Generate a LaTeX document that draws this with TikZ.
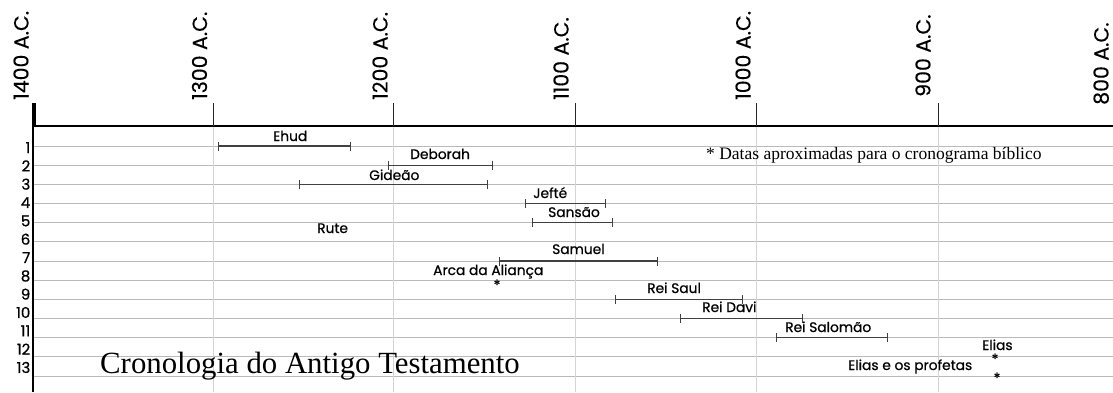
\documentclass[tikz,border=0pt]{standalone}
\usepackage{fontspec}
\setmainfont{Poppins}
\newfontfamily\labfont{Poppins}[FakeBold=0.7]
\newfontfamily\yearfont{Poppins}[FakeBold=0.3]
\newfontfamily\serifont{Liberation Serif}
\usetikzlibrary{arrows.meta}
\begin{document}
\begin{tikzpicture}[x=1pt,y=-1pt,
  gridline/.style={draw=black!27, line width=0.9pt},
  vgrid/.style={draw=black!17, line width=0.8pt},
  axisline/.style={draw=black, line width=1.5pt},
  tickmark/.style={draw=black!85, line width=1pt},
  period/.style={draw=black!75, line width=1.1pt,
    {Bar[width=9pt,line width=1pt]}-{Bar[width=9pt,line width=1pt]}},
  lab/.style={font=\labfont\fontsize{13.8}{13.8}\selectfont, inner sep=0pt, anchor=base west},
  rownum/.style={font=\labfont\fontsize{15}{15}\selectfont, inner sep=0pt, anchor=base east},
  yearlab/.style={font=\yearfont\fontsize{20.5}{20.5}\selectfont, inner sep=0pt, rotate=90, anchor=base west},
  starmark/.style={font=\labfont\fontsize{14}{14}\selectfont, inner sep=0pt, anchor=base}
]
\useasboundingbox (0,0) rectangle (1113,392);
\fill[white] (0,0) rectangle (1113,392);

% horizontal grid lines
\foreach \i in {1,...,13}{
  \draw[gridline] (33,{146+19.17*(\i-1)}) -- (1113,{146+19.17*(\i-1)});
}
% vertical grid lines
\foreach \x in {213,393.5,575,756.5,938}{
  \draw[vgrid] (\x,126) -- (\x,392);
}

% axes
\draw[axisline] (33,126) -- (1113,126);
\draw[draw=black, line width=3.5pt] (34,103) -- (34,127);
\draw[draw=black, line width=2.2pt] (32.6,126) -- (32.6,392);
\foreach \x in {213,393.5,575,756.5,938}{
  \draw[tickmark] (\x,103) -- (\x,126);
}

% year labels
\node[yearlab] (y1400) at (28.5,100) {1400 A.C.};
\node[yearlab] (y1300) at (207,100) {1300 A.C.};
\node[yearlab] (y1200) at (387.5,100) {1200 A.C.};
\node[yearlab] (y1100) at (568.5,100) {1100 A.C.};
\node[yearlab] (y1000) at (750.5,100) {1000 A.C.};
\node[yearlab] (y900) at (930.5,97) {900 A.C.};
\node[yearlab] (y800) at (1108.5,105) {800 A.C.};

% row numbers
\foreach \i in {1,...,13}{
  \node[rownum] (r\i) at (30.5,{153+18.33*(\i-1)}) {\i};
}

% periods
\coordinate (ehudA) at (218,146);   \coordinate (ehudB) at (351,146);
\coordinate (debA) at (388,165.2);  \coordinate (debB) at (493,165.2);
\coordinate (gidA) at (299,184.3);  \coordinate (gidB) at (488,184.3);
\coordinate (jefA) at (525,203.5);  \coordinate (jefB) at (606,203.5);
\coordinate (sanA) at (532,222.7);  \coordinate (sanB) at (613,222.7);
\coordinate (samA) at (499,261);    \coordinate (samB) at (658,261);
\coordinate (saulA) at (615,299.4); \coordinate (saulB) at (743,299.4);
\coordinate (daviA) at (680,318.5); \coordinate (daviB) at (803,318.5);
\coordinate (salA) at (776,337.7);  \coordinate (salB) at (888,337.7);

\draw[period] (ehudA) -- (ehudB);
\draw[period] (debA) -- (debB);
\draw[period] (gidA) -- (gidB);
\draw[period] (jefA) -- (jefB);
\draw[period] (sanA) -- (sanB);
\draw[period] (samA) -- (samB);
\draw[period] (saulA) -- (saulB);
\draw[period] (daviA) -- (daviB);
\draw[period] (salA) -- (salB);

% labels
\node[lab] (ehud) at (273,141) {Ehud};
\node[lab] (deb) at (410,159) {Deborah};
\node[lab] (gid) at (369,180) {Gideão};
\node[lab] (jef) at (533,198) {Jefté};
\node[lab] (san) at (548,217) {Sansão};
\node[lab] (rute) at (317,233) {Rute};
\node[lab] (sam) at (552,254) {Samuel};
\node[lab] (arca) at (433,275) {Arca da Aliança};
\node[lab] (saul) at (647,293) {Rei Saul};
\node[lab] (davi) at (702,312) {Rei Davi};
\node[lab] (sal) at (785,332) {Rei Salomão};
\node[lab] (elias) at (982,350) {Elias};
\node[lab] (prof) at (848,370) {Elias e os profetas};

% asterisks
\node[starmark] (arcaM) at (497,290) {*};
\node[starmark] (eliasM) at (995,364) {*};
\node[starmark] (profM) at (997,383) {*};

% texts
\node[inner sep=0pt, anchor=base west, font=\serifont\fontsize{17.5}{17.5}\selectfont] (note) at (706,159) {* Datas aproximadas para o cronograma bíblico};
\node[inner sep=0pt, anchor=base west, font=\serifont\fontsize{30.8}{30.8}\selectfont] (title) at (100,373) {Cronologia do Antigo Testamento};
\end{tikzpicture}
\end{document}
